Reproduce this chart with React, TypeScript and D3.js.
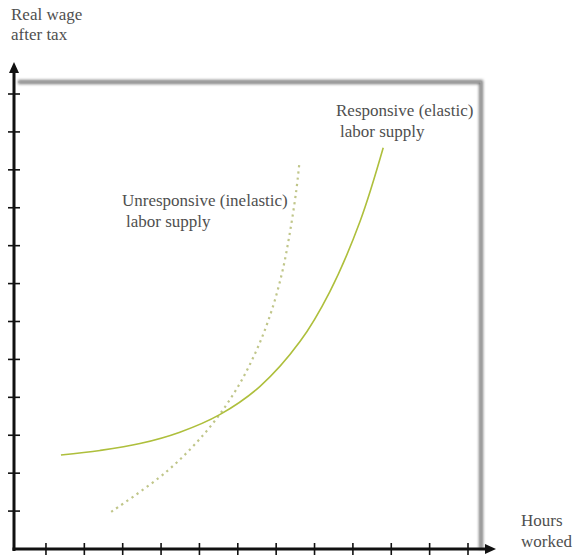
import { useEffect, useRef } from 'react';
import * as d3 from 'd3';

// tick positions on both axes (unitless, as in the sketch)
const hourTicks = [1, 2, 3, 4, 5, 6, 7, 8, 9, 10, 11, 12];
const wageTicks = [1, 2, 3, 4, 5, 6, 7, 8, 9, 10, 11, 12];

// responsive (elastic) labor supply, solid
const elasticHours = [1.39, 2.41, 3.45, 4.49, 5.54, 6.58, 7.62, 8.4, 9.19, 9.79];
const elasticWage = [2.48, 2.6, 2.78, 3.08, 3.55, 4.29, 5.47, 6.79, 8.65, 10.58];

// unresponsive (inelastic) labor supply, dotted
const inelasticHours = [2.7, 4.13, 5.17, 5.92, 6.47, 6.87, 7.16, 7.36, 7.52, 7.6];
const inelasticWage = [0.98, 2.03, 3.09, 4.14, 5.2, 6.25, 7.31, 8.36, 9.42, 10.13];

const WIDTH = 574;
const HEIGHT = 559;

const App = () => {
    const svgRef = useRef<SVGSVGElement | null>(null);

    useEffect(() => {
        if (!svgRef.current) return;
        const svg = d3.select(svgRef.current);
        svg.selectAll('*').remove();

        const x = d3.scaleLinear().domain([0, 12]).range([7.6, 468]);
        const y = d3.scaleLinear().domain([0, 12]).range([549, 94]);

        const originX = 14;
        const originY = 549;
        const frameTop = 82;
        const frameRight = 481;

        const defs = svg.append('defs');
        defs.append('filter')
            .attr('id', 'soft')
            .attr('x', '-10%').attr('y', '-10%')
            .attr('width', '120%').attr('height', '120%')
            .append('feGaussianBlur')
            .attr('stdDeviation', 1.8);

        // framed box with a soft shadow (top and right edges)
        svg.append('path')
            .attr('d', `M${originX + 4},${frameTop} H${frameRight} V${originY}`)
            .attr('fill', 'none')
            .attr('stroke', '#7a7a7a')
            .attr('stroke-width', 4)
            .attr('filter', 'url(#soft)');
        svg.append('path')
            .attr('d', `M${originX + 4},${frameTop} H${frameRight} V${originY}`)
            .attr('fill', 'none')
            .attr('stroke', '#a8a8a8')
            .attr('stroke-width', 1);

        // curves
        const line = d3.line<[number, number]>()
            .x(d => x(d[0]))
            .y(d => y(d[1]))
            .curve(d3.curveCatmullRom.alpha(0.5));

        const elastic = elasticHours.map((h, i) => [h, elasticWage[i]] as [number, number]);
        const inelastic = inelasticHours.map((h, i) => [h, inelasticWage[i]] as [number, number]);

        svg.append('path')
            .attr('d', line(inelastic))
            .attr('fill', 'none')
            .attr('stroke', '#c0c68a')
            .attr('stroke-width', 2.2)
            .attr('stroke-dasharray', '2.2,4');

        svg.append('path')
            .attr('d', line(elastic))
            .attr('fill', 'none')
            .attr('stroke', '#aebf3c')
            .attr('stroke-width', 1.6);

        // axes
        const axis = svg.append('g').attr('stroke', '#111').attr('fill', '#111');
        axis.append('line')
            .attr('x1', originX).attr('x2', originX)
            .attr('y1', originY + 2).attr('y2', 70)
            .attr('stroke-width', 3);
        axis.append('line')
            .attr('x1', originX - 1.5).attr('x2', 488)
            .attr('y1', originY).attr('y2', originY)
            .attr('stroke-width', 3);
        axis.append('path')
            .attr('d', `M${originX},62 L${originX - 5},73 L${originX + 5},73 Z`)
            .attr('stroke', 'none');
        axis.append('path')
            .attr('d', `M496,${originY} L485,${originY - 5} L485,${originY + 5} Z`)
            .attr('stroke', 'none');

        axis.selectAll('.yt')
            .data(wageTicks)
            .join('line')
            .attr('class', 'yt')
            .attr('x1', originX - 6).attr('x2', originX + 6)
            .attr('y1', d => y(d)).attr('y2', d => y(d))
            .attr('stroke-width', 1.6);

        axis.selectAll('.xt')
            .data(hourTicks)
            .join('line')
            .attr('class', 'xt')
            .attr('x1', d => x(d)).attr('x2', d => x(d))
            .attr('y1', originY - 6).attr('y2', originY + 6)
            .attr('stroke-width', 1.6);

        // labels
        const label = (lines: string[], lx: number, ly: number, dy: number) => {
            const t = svg.append('text')
                .attr('font-family', '"Liberation Serif", serif')
                .attr('font-size', 17)
                .attr('fill', '#4f4f4f');
            lines.forEach((s, i) => {
                t.append('tspan').attr('x', lx).attr('y', ly + i * dy).text(s);
            });
        };

        label(['Real wage', 'after tax'], 11, 20, 20);
        label(['Hours', 'worked'], 521, 526, 21);
        label(['Responsive (elastic)'], 336, 116, 0);
        label(['labor supply'], 340, 137, 0);
        label(['Unresponsive (inelastic)'], 122, 206, 0);
        label(['labor supply'], 126, 227, 0);
    }, []);

    return (
        <svg
            ref={svgRef}
            width={WIDTH}
            height={HEIGHT}
            style={{ position: 'absolute', left: 0, top: 0, background: '#fff' }}
        />
    );
};

export default App;
